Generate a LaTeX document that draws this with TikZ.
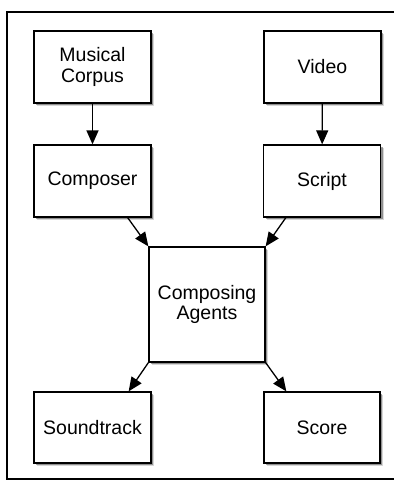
\documentclass[tikz,border=0pt]{standalone}
\usepackage{fontspec}
\setmainfont{Liberation Sans}
\usetikzlibrary{arrows.meta,shadows}
\begin{document}
\begin{tikzpicture}[x=1pt,y=-1pt,
  box/.style={draw=black, line width=1.3pt, fill=white, rectangle,
    minimum width=117pt, minimum height=72pt, inner sep=0pt, align=center,
    font=\fontsize{19.5}{20.5}\selectfont,
    drop shadow={shadow xshift=3pt, shadow yshift=-3pt, fill=black!40, opacity=0.4},
    drop shadow={shadow xshift=2pt, shadow yshift=-2pt, fill=black!70, opacity=0.5}},
  conn/.style={line width=1.3pt, -{Triangle[length=14pt,width=12pt]}},
  frame/.style={line width=2.6pt}]
\useasboundingbox (0,0) rectangle (394,483);
\draw[frame] (400,12) -- (7,12) -- (7,479) -- (400,479);
\node[box] (corpus) at (92.5,67) {Musical\\Corpus};
\node[box] (video) at (322.5,67) {Video};
\node[box] (composer) at (92.5,181) {Composer};
\node[box] (script) at (322,181) {Script};
\node[box, minimum width=116pt, minimum height=115pt] (agents) at (207,304.5) {Composing\\Agents};
\node[box, minimum height=71pt] (soundtrack) at (92.5,427.5) {Soundtrack};
\node[box, minimum height=71pt, minimum width=116pt] (score) at (322,427.5) {Score};
\draw[conn] (corpus) -- (composer);
\draw[conn] (video) -- (script);
\draw[conn] ([xshift=-24pt]composer.south east) -- (agents.north west);
\draw[conn] ([xshift=23pt]script.south west) -- (agents.north east);
\draw[conn] (agents.south west) -- ([xshift=-23pt]soundtrack.north east);
\draw[conn] (agents.south east) -- ([xshift=23pt]score.north west);
\end{tikzpicture}
\end{document}
